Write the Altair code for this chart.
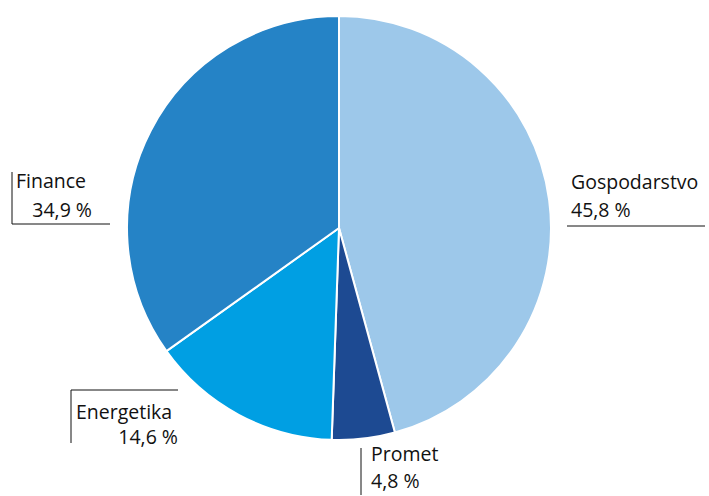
import altair as alt
import pandas as pd

categories = ["Gospodarstvo", "Promet", "Energetika", "Finance"]
shares = [45.8, 4.8, 14.6, 34.9]
value_labels = ["45,8 %", "4,8 %", "14,6 %", "34,9 %"]
colors = ["#9DC8EA", "#1D4A92", "#009FE3", "#2583C6"]

pie_df = pd.DataFrame({"cat": categories, "share": shares, "order": list(range(len(categories)))})

# label annotation placement (pixel positions)
lab_df = pd.DataFrame({
    "text": ["Gospodarstvo", value_labels[0], "Promet", value_labels[1],
             "Energetika", value_labels[2], "Finance", value_labels[3]],
    "px": [571, 571, 371, 371, 76, 178, 16, 92],
    "py": [189, 217, 461, 488, 419, 444, 188, 217],
    "al": ["left", "left", "left", "left", "left", "right", "left", "right"],
})

seg_df = pd.DataFrame({
    "x1": [567, 361, 71, 71, 12, 12],
    "x2": [705, 361, 71, 178, 12, 110],
    "y1": [226, 448, 390, 390, 172, 224],
    "y2": [226, 495, 443, 390, 224, 224],
})

FONT = "Open Sans"
FS = 19.5

pie = alt.Chart(pie_df).mark_arc(radius=212, stroke="white", strokeWidth=2).encode(
    theta=alt.Theta("share:Q", stack=True),
    order=alt.Order("order:Q"),
    color=alt.Color("cat:N", scale=alt.Scale(domain=categories, range=colors), legend=None),
    x=alt.value(339),
    y=alt.value(228),
)

xs = alt.Scale(domain=[0, 709], range=[0, 709])
ys = alt.Scale(domain=[0, 496], range=[0, 496])

left_text = alt.Chart(lab_df).transform_filter("datum.al == 'left'").mark_text(
    align="left", baseline="alphabetic", font=FONT, fontSize=FS, color="#111111"
).encode(
    x=alt.X("px:Q", scale=xs, axis=None),
    y=alt.Y("py:Q", scale=ys, axis=None),
    text="text:N",
)
right_text = alt.Chart(lab_df).transform_filter("datum.al == 'right'").mark_text(
    align="right", baseline="alphabetic", font=FONT, fontSize=FS, color="#111111"
).encode(
    x=alt.X("px:Q", scale=xs, axis=None),
    y=alt.Y("py:Q", scale=ys, axis=None),
    text="text:N",
)

rules = alt.Chart(seg_df).mark_rule(color="#111111", strokeWidth=1).encode(
    x=alt.X("x1:Q", scale=xs, axis=None),
    x2="x2:Q",
    y=alt.Y("y1:Q", scale=ys, axis=None),
    y2="y2:Q",
)

chart = alt.layer(pie, rules, left_text, right_text).properties(
    width=709, height=496, padding=0, autosize=alt.AutoSizeParams(type="none"),
    background="white",
).configure_view(stroke=None)

chart.save("out.html", embed_options={"renderer": "svg", "actions": False})
